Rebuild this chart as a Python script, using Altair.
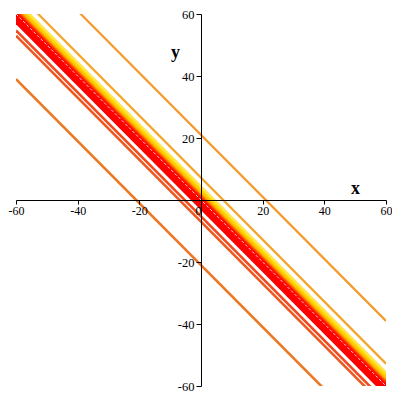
import altair as alt
import pandas as pd

# Each line is x + y = c
offsets = [-21, -7.0, -5.3,
           -2.7, -2.2, -1.7, -1.2, -0.7, -0.2, 0.3, 0.8, 1.2,
           1.6, 2.0, 2.4, 2.8, 3.2, 3.6, 4.0, 4.4,
           7.2, 21]
line_colors = ["#EC7824", "#EC5A22", "#F04A1E",
               "#F40000", "#FF0000", "#FA0000", "#FF0000", "#FF0000", "#FF0000", "#FF0000", "#FF0A00", "#FF1A00",
               "#FF3A00", "#FF6A00", "#FF9A00", "#FFBA00", "#FFCA00", "#FFD400", "#FFDC20", "#FFE650",
               "#F4A42A", "#F39A2A"]
line_widths = [2.6, 2.2, 2.2] + [3] * 17 + [3, 2.6]
white_offsets = [0.0]

x_ends = [-60, 60]
tick_values = list(range(-60, 61, 10))

ids = [f"L{i:02d}" for i in range(len(offsets))]
rows = []
for i, c in enumerate(offsets):
    for xe in x_ends:
        rows.append({"id": ids[i], "x": xe, "y": c - xe})
df = pd.DataFrame(rows)

wrows = []
for i, c in enumerate(white_offsets):
    for xe in x_ends:
        wrows.append({"id": f"W{i}", "x": xe, "y": c - xe})
wdf = pd.DataFrame(wrows)

W, H = 370, 372
font = "Liberation Serif"

xaxis = alt.Axis(
    values=tick_values, grid=False, offset=-H / 2, zindex=1,
    labelExpr="datum.value % 20 != 0 ? '' : (datum.value < 0 ? '-' + abs(datum.value) : '' + datum.value)",
    labelFlush=False, labelOverlap=False, labelFont=font, labelFontSize=12,
    labelColor="black", labelPadding=1,
    labelAlign={"condition": {"test": "datum.value === 0", "value": "right"}, "value": "center"},
    tickSize=4, tickColor="black", domainColor="black",
    title="x", titleFont=font, titleFontSize=18, titleFontWeight="bold",
    titleX=339, titleY=-7, titleBaseline="alphabetic", titleAlign="center", titleColor="black",
)
yaxis = alt.Axis(
    values=tick_values, grid=False, offset=-W / 2, zindex=1,
    labelExpr="datum.value % 20 != 0 || datum.value == 0 ? '' : (datum.value < 0 ? '-' + abs(datum.value) : '' + datum.value)",
    labelFlush=False, labelOverlap=False, labelFont=font, labelFontSize=12.5,
    labelColor="black", labelPadding=2,
    tickSize=5, tickColor="black", domainColor="black",
    title="y", titleFont=font, titleFontSize=18, titleFontWeight="bold",
    titleX=-26, titleY=43, titleBaseline="alphabetic", titleAlign="center", titleAngle=0,
    titleColor="black",
)

xs = alt.Scale(domain=[-60, 60], nice=False, zero=False)
ys = alt.Scale(domain=[-60, 60], nice=False, zero=False)

lines = alt.Chart(df).mark_line(clip=True, strokeCap="butt").encode(
    x=alt.X("x:Q", scale=xs, axis=xaxis),
    y=alt.Y("y:Q", scale=ys, axis=yaxis),
    color=alt.Color("id:N", scale=alt.Scale(domain=ids, range=line_colors), legend=None),
    strokeWidth=alt.StrokeWidth("id:N", scale=alt.Scale(domain=ids, range=line_widths), legend=None),
    detail="id:N",
)
white = alt.Chart(wdf).mark_line(clip=True, strokeWidth=0.8, color="white", strokeDash=[3, 2]).encode(
    x=alt.X("x:Q", scale=xs),
    y=alt.Y("y:Q", scale=ys),
    detail="id:N",
)

chart = alt.layer(lines, white).properties(
    width=W, height=H,
    autosize=alt.AutoSizeParams(type="none"),
    padding={"left": 8, "top": 6, "right": 6, "bottom": 6},
).configure(background="white").configure_view(stroke=None)

chart.save("out.html", embed_options={"renderer": "svg", "actions": False})
